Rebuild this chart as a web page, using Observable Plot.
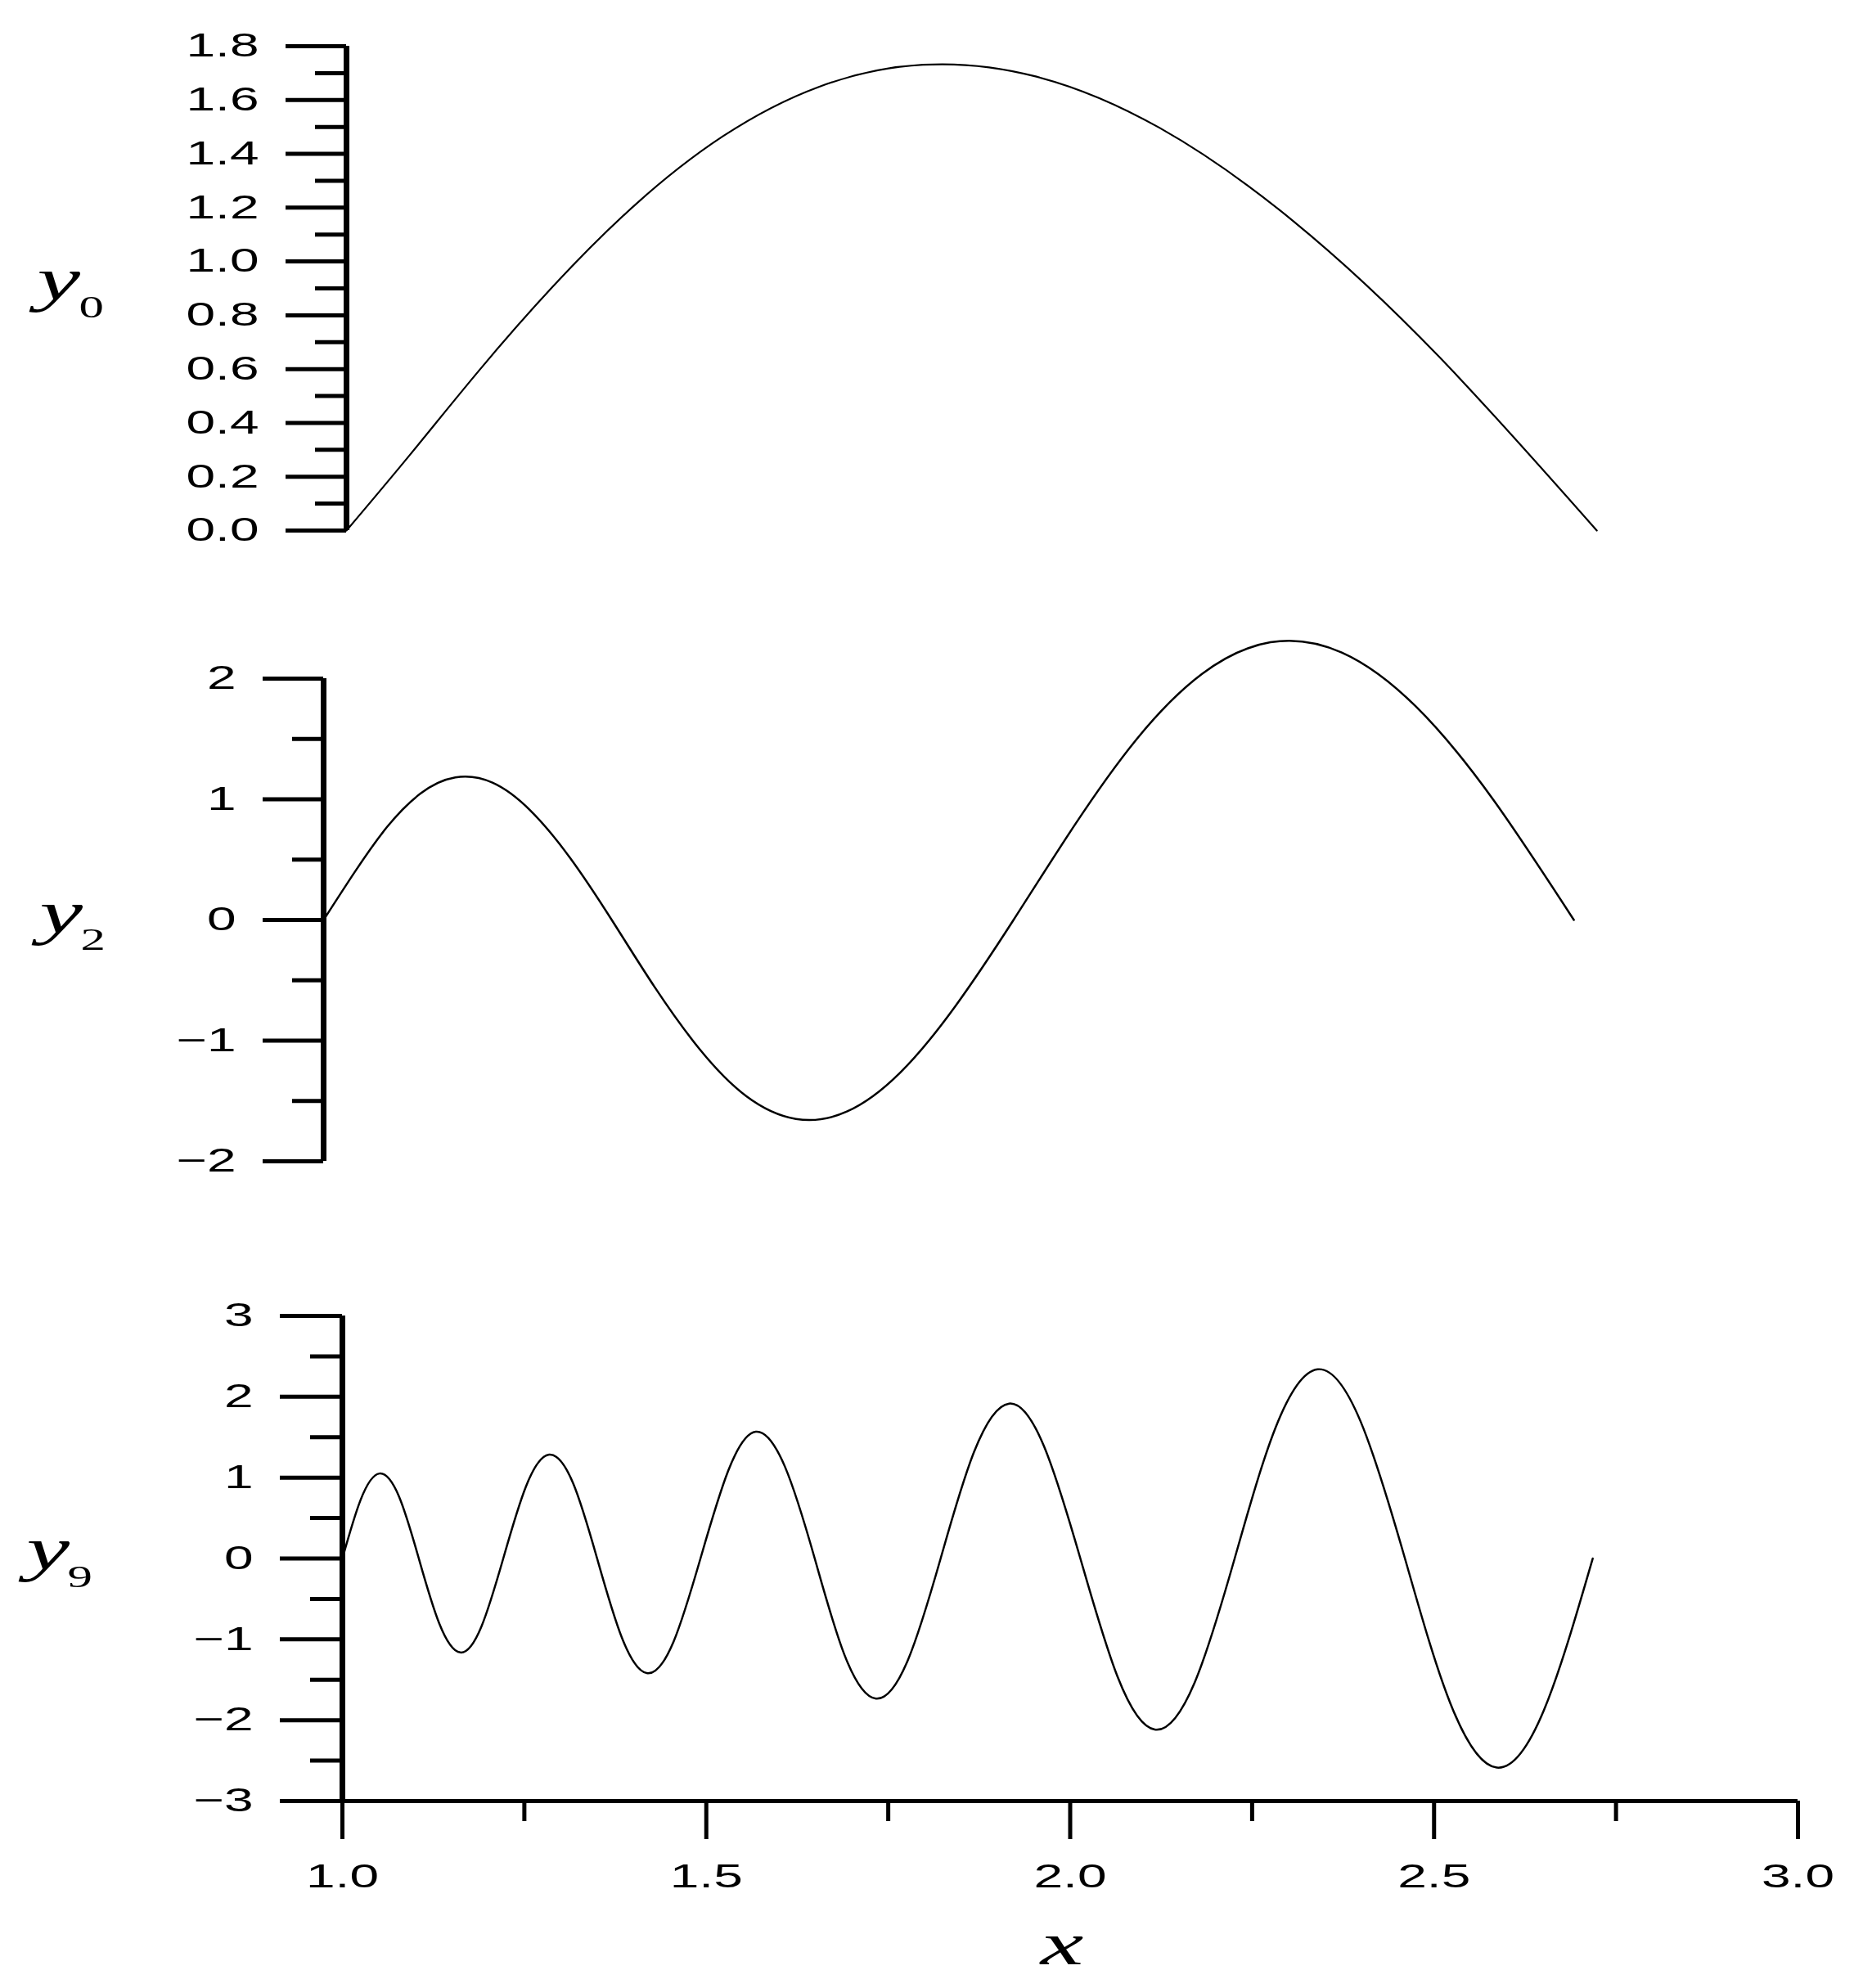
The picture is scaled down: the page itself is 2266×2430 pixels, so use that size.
<!DOCTYPE html>
<html>
<head>
<meta charset="utf-8">
<script src="https://cdn.jsdelivr.net/npm/d3@7"></script>
<script src="https://cdn.jsdelivr.net/npm/@observablehq/plot@0.6"></script>
<style>
  body { margin: 0; background: white; }
  #chart { width: 2266px; }
  #chart svg { display: block; }
</style>
</head>
<body>
<div id="chart"></div>
<script>
// values (x from 1 to e, each curve)
const y0X = [1, 1.087, 1.181, 1.284, 1.396, 1.517, 1.649, 1.792, 1.948, 2.117, 2.301, 2.501, 2.718];
const y0Y = [0, 0.281, 0.591, 0.908, 1.209, 1.465, 1.649, 1.731, 1.687, 1.497, 1.150, 0.647, 0];

const y2X = [1, 1.043, 1.087, 1.133, 1.181, 1.232, 1.284, 1.339, 1.396, 1.455, 1.517, 1.581, 1.649,
  1.719, 1.792, 1.868, 1.948, 2.031, 2.117, 2.207, 2.301, 2.399, 2.501, 2.607, 2.718];
const y2Y = [0, 0.399, 0.769, 1.047, 1.181, 1.138, 0.908, 0.512, 0, -0.557, -1.073, -1.461, -1.649,
  -1.588, -1.267, -0.715, 0, 0.777, 1.497, 2.039, 2.301, 2.216, 1.768, 0.998, 0];

const y9X = [1, 1.025, 1.051, 1.078, 1.105, 1.133, 1.162, 1.191, 1.221, 1.252, 1.284, 1.317, 1.350,
  1.384, 1.419, 1.455, 1.492, 1.530, 1.568, 1.608, 1.649, 1.690, 1.733, 1.777, 1.822, 1.868, 1.916,
  1.964, 2.014, 2.065, 2.117, 2.171, 2.226, 2.282, 2.340, 2.399, 2.460, 2.522, 2.586, 2.651, 2.718];
const y9Y = [0, 0.725, 1.051, 0.762, 0, -0.801, -1.162, -0.842, 0, 0.886, 1.284, 0.931, 0,
  -0.979, -1.419, -1.029, 0, 1.082, 1.568, 1.137, 0, -1.195, -1.733, -1.257, 0, 1.321, 1.916,
  1.389, 0, -1.460, -2.117, -1.535, 0, 1.614, 2.340, 1.696, 0, -1.783, -2.586, -1.875, 0];

// tick values
const y0Ticks = [0, 0.2, 0.4, 0.6, 0.8, 1.0, 1.2, 1.4, 1.6, 1.8];
const y0Minor = [0.1, 0.3, 0.5, 0.7, 0.9, 1.1, 1.3, 1.5, 1.7];
const y2Ticks = [-2, -1, 0, 1, 2];
const y2Minor = [-1.5, -0.5, 0.5, 1.5];
const y9Ticks = [-3, -2, -1, 0, 1, 2, 3];
const y9Minor = [-2.5, -1.5, -0.5, 0.5, 1.5, 2.5];
const xTicks = [1, 1.5, 2, 2.5, 3];
const xMinor = [1.25, 1.75, 2.25, 2.75];

const sans = 'Liberation Sans, Arial, sans-serif';
const serif = 'Liberation Serif, Times New Roman, serif';
const minus = d => d < 0 ? '\u2212' + Math.abs(d) : String(d);

const pts = (xs, ys) => xs.map((x, i) => ({x: x, y: ys[i]}));

function yLabel(sub, dxY, dxSub, dyY, dySub) {
  return [
    Plot.text(['y'], {frameAnchor: 'left', textAnchor: 'start', lineAnchor: 'bottom',
      dx: dxY, dy: dyY, fontFamily: serif, fontStyle: 'italic', fontSize: 74}),
    Plot.text([sub], {frameAnchor: 'left', textAnchor: 'start', lineAnchor: 'bottom',
      dx: dxSub, dy: dySub, fontFamily: serif, fontSize: 38})
  ];
}

// the original lettering is wide, stretch every text sideways
function stretch(svg) {
  d3.select(svg).selectAll('text').each(function() {
    const t = this.getAttribute('transform') || '';
    const x = this.getAttribute('x');
    let extra = '';
    if (x) { this.removeAttribute('x'); extra = ` translate(${x},0)`; }
    this.setAttribute('transform', `${t}${extra} scale(1.6,1)`);
  });
  return svg;
}

const style = {fontFamily: sans, fontSize: '40px', color: 'black', background: 'white'};

let chartTop = Plot.plot({
  width: 2266, height: 700,
  marginTop: 56, marginBottom: 52, marginLeft: 423, marginRight: 64,
  x: {domain: [1, 3], axis: null},
  y: {domain: [0, 1.8]},
  style: style,
  marks: [
    Plot.axisY(y0Minor, {tickSize: 38, strokeWidth: 5, tickFormat: () => '', label: null}),
    Plot.axisY(y0Ticks, {tickSize: 74, tickPadding: 33, strokeWidth: 5, tickFormat: d3.format('.1f'), label: null}),
    Plot.ruleX([1], {y1: 0, y2: 1.8, strokeWidth: 7}),
    Plot.line(pts(y0X, y0Y), {x: 'x', y: 'y', curve: 'natural', strokeWidth: 2.2}),
    ...yLabel('0', 45 - 423, 96 - 423, 13, 35)
  ]
});

let chartMid = Plot.plot({
  width: 2266, height: 800,
  marginTop: 129, marginBottom: 81, marginLeft: 395, marginRight: 92,
  x: {domain: [1, 3], axis: null},
  y: {domain: [-2, 2]},
  style: style,
  marks: [
    Plot.axisY(y2Minor, {tickSize: 38, strokeWidth: 5, tickFormat: () => '', label: null}),
    Plot.axisY(y2Ticks, {tickSize: 74, tickPadding: 33, strokeWidth: 5, tickFormat: minus, label: null}),
    Plot.ruleX([1], {y1: -2, y2: 2, strokeWidth: 7}),
    Plot.line(pts(y2X, y2Y), {x: 'x', y: 'y', curve: 'natural', strokeWidth: 2.5}),
    ...yLabel('2', 48 - 395, 98 - 395, 15, 36)
  ]
});

let chartBottom = Plot.plot({
  width: 2266, height: 930,
  marginTop: 108, marginBottom: 229, marginLeft: 418, marginRight: 69,
  x: {domain: [1, 3]},
  y: {domain: [-3, 3]},
  style: style,
  marks: [
    Plot.axisY(y9Minor, {tickSize: 39, strokeWidth: 5, tickFormat: () => '', label: null}),
    Plot.axisY(y9Ticks, {tickSize: 76, tickPadding: 33, strokeWidth: 5, tickFormat: minus, label: null}),
    Plot.axisX(xMinor, {tickSize: 25, strokeWidth: 5, tickFormat: () => '', label: null}),
    Plot.axisX(xTicks, {tickSize: 47, tickPadding: 30, strokeWidth: 5, tickFormat: d3.format('.1f'), label: null}),
    Plot.ruleX([1], {y1: -3, y2: 3, strokeWidth: 7}),
    Plot.ruleY([-3], {x1: 1, x2: 3, strokeWidth: 5}),
    Plot.line(pts(y9X, y9Y), {x: 'x', y: 'y', curve: 'natural', strokeWidth: 2.5}),
    ...yLabel('9', 32 - 418, 82 - 418, 13, 35),
    Plot.text(['x'], {frameAnchor: 'bottom', textAnchor: 'middle', lineAnchor: 'bottom',
      dx: -10, dy: 199, fontFamily: serif, fontStyle: 'italic', fontSize: 74})
  ]
});

const chart = d3.select('#chart');
chart.append(() => stretch(chartTop));
chart.append(() => stretch(chartMid));
chart.append(() => stretch(chartBottom));
</script>
</body>
</html>
